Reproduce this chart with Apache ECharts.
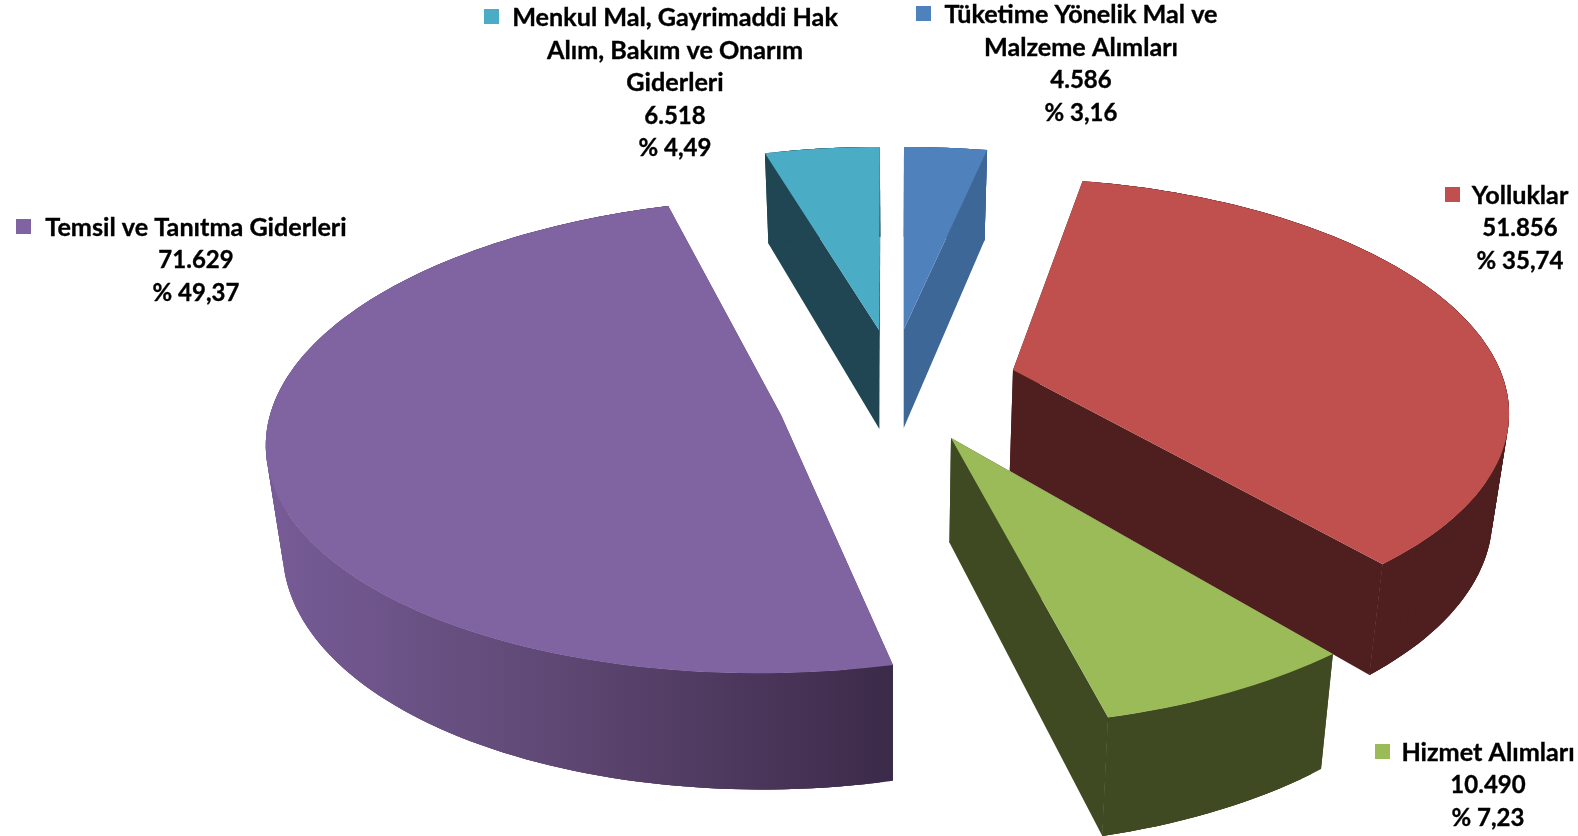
<!DOCTYPE html>
<html><head><meta charset="utf-8">
<style>html,body{margin:0;padding:0;background:#fff}#c{width:1578px;height:836px}</style>
<script src="https://cdn.jsdelivr.net/npm/echarts@6/dist/echarts.min.js"></script>
</head><body><div id="c"></div>
<script>
// Data, in clockwise order starting at 12 o'clock
const categories = ['Tüketime Yönelik Mal ve Malzeme Alımları','Yolluklar','Hizmet Alımları','Temsil ve Tanıtma Giderleri','Menkul Mal, Gayrimaddi Hak Alım, Bakım ve Onarım Giderleri'];
const values = [4586, 51856, 10490, 71629, 6518];
const valueLabels = ['4.586','51.856','10.490','71.629','6.518'];
const percentLabels = ['% 3,16','% 35,74','% 7,23','% 49,37','% 4,49'];
const nameLines = [
  ['Tüketime Yönelik Mal ve','Malzeme Alımları'],
  ['Yolluklar'],
  ['Hizmet Alımları'],
  ['Temsil ve Tanıtma Giderleri'],
  ['Menkul Mal, Gayrimaddi Hak','Alım, Bakım ve Onarım','Giderleri']
];

// Styles
const topColors = ['#4f81bd','#c0504d','#9bbb59','#8064a2','#4bacc6'];
const wallColors = ['#3d6796','#4e1f1e','#3f4a22',null,'#1f4652'];
// per-slice perspective frame of the exploded slice
const sliceFrames = [
  {ax:904, ay:329, s:483, ks:209.3, p:0.15,  shx:0},
  {ax:1013,ay:370, s:487, ks:222.6, p:0.158, shx:-16},
  {ax:951, ay:438, s:532, ks:260,   p:0.10,  shx:-14.4},
  {ax:781, ay:415, s:511, ks:235.8, p:0.087, shx:21},
  {ax:879, ay:330, s:472, ks:210.5, p:0.15,  shx:1}
];
const depth = {cx:893, shrink:0.973, base:90, perPx:0.05, y0:150};
const labelPos = [
  {x:1081,y:15,mx:916},
  {x:1520,y:196,mx:1445},
  {x:1488,y:753,mx:1375},
  {x:196,y:228,mx:16},
  {x:675,y:18,mx:484}
];
const lineH = 32.6;
const nameFont = 'bold 25.2px Lato, "Open Sans", sans-serif';
const numFont = 'bold 24px Lato, "Open Sans", sans-serif';

const total = values.reduce((a,b)=>a+b,0);
function project(f,X,Y){
  const w = 1 + f.p*Y;
  return [f.ax + (f.s*X + f.shx*Y)/w, f.ay - f.ks*Y/w];
}
function lower(pt){
  return [depth.cx + (pt[0]-depth.cx)*depth.shrink, pt[1] + depth.base + depth.perPx*(pt[1]-depth.y0)];
}
const purpleWall = new echarts.graphic.LinearGradient(275,0,893,0,[
  {offset:0,color:'#765b96'},{offset:0.45,color:'#5f4874'},{offset:1,color:'#3c2a49'}],true);

function renderItem(params, api){
  const i = params.dataIndex, f = sliceFrames[i];
  let before = 0;
  for(let k=0;k<i;k++) before += values[k];
  const a0 = before/total*2*Math.PI, a1 = (before+api.value(0))/total*2*Math.PI;
  const apex = [f.ax,f.ay];
  const arc = [];
  const N = Math.max(8, Math.round((a1-a0)*40));
  for(let k=0;k<=N;k++){
    const t = a0+(a1-a0)*k/N;
    arc.push(project(f,Math.sin(t),Math.cos(t)));
  }
  const z = Math.round(f.ay);
  const fill = wallColors[i] || purpleWall;
  const flat = wallColors[i] || '#4a3659';
  const wall = (pts,c,zz)=>({type:'polygon',z2:zz,silent:true,shape:{points:pts},style:{fill:c}});
  const first = arc[0], last = arc[arc.length-1];
  const children = [
    wall([apex,first,lower(first),lower(apex)],flat,z),
    wall([apex,last,lower(last),lower(apex)],flat,z)
  ];
  // overlapping strips so that no seam shows between neighbours
  for(let k=0;k<N;k++){
    const e = Math.min(k+3,N);
    const strip = arc.slice(k,e+1);
    children.push(wall(strip.concat(strip.slice().reverse().map(lower)),fill,z+1));
  }
  children.push({type:'polygon',z2:z+2,silent:true,shape:{points:[apex].concat(arc)},style:{fill:topColors[i]}});
  const L = labelPos[i];
  const names = nameLines[i];
  names.concat([valueLabels[i],percentLabels[i]]).forEach((txt,k)=>{
    children.push({type:'text',z2:2000,silent:true,style:{
      text:txt,x:L.x,y:L.y+k*lineH,textAlign:'center',textVerticalAlign:'middle',
      font:k<names.length?nameFont:numFont,fill:'#000',stroke:'#000',lineWidth:0.35}});
  });
  children.push({type:'rect',z2:2000,silent:true,shape:{x:L.mx,y:L.y-9,width:15,height:15},style:{fill:topColors[i]}});
  return {type:'group',children};
}

const chart = echarts.init(document.getElementById('c'),null,{renderer:'canvas'});
chart.setOption({
  animation:false,
  backgroundColor:'#fff',
  series:[{type:'custom',coordinateSystem:'none',renderItem,silent:true,
    data:values.map((v,i)=>({name:categories[i],value:[v]}))}]
});
</script></body></html>
